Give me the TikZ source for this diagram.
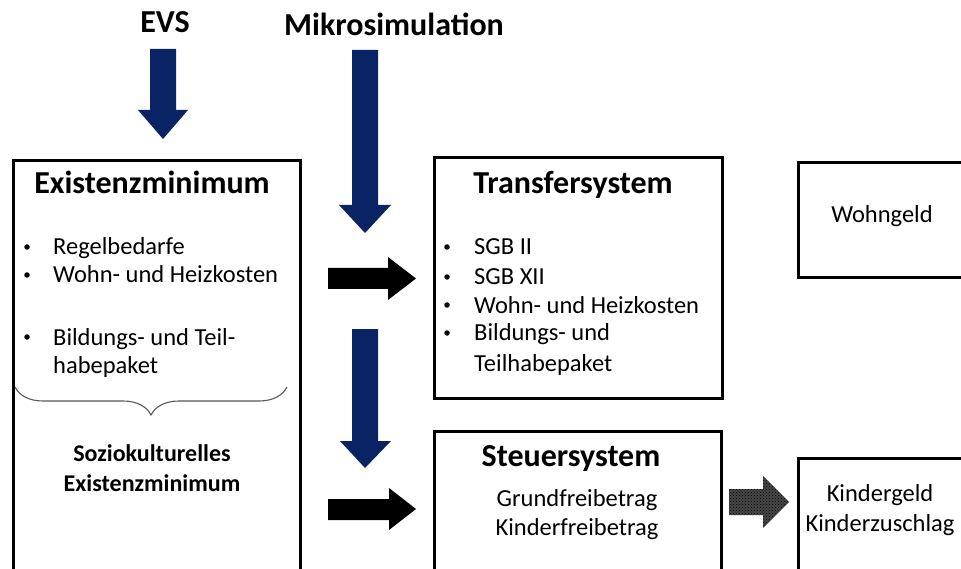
\documentclass[tikz,border=0pt]{standalone}
\usepackage{fontspec}
\setmainfont{Carlito}
\usetikzlibrary{decorations.pathreplacing,patterns}
\definecolor{navy}{RGB}{10,35,100}
\tikzset{
  box/.style={draw=black,line width=2.6pt,fill=white,inner sep=0pt,anchor=north west},
  ttl/.style={font=\fontsize{32}{36}\selectfont\bfseries,inner sep=0pt,anchor=base},
  txt/.style={font=\fontsize{24.5}{29}\selectfont,inner sep=0pt,anchor=base west},
  ctxt/.style={font=\fontsize{24.5}{29}\selectfont,inner sep=0pt,anchor=base},
  btxt/.style={font=\fontsize{24}{29}\selectfont\bfseries,inner sep=0pt,anchor=base},
  bul/.style={circle,fill=black,inner sep=0pt,minimum size=5.5pt},
  bluearrow/.style={fill=navy},
  blackarrow/.style={fill=black},
}
\begin{document}
\begin{tikzpicture}[x=1pt,y=-1pt]
\useasboundingbox (0,0) rectangle (961,569);
\clip (0,0) rectangle (961,569);
% boxes
\node[box,minimum width=287pt,minimum height=460pt] (exist) at (12,159) {};
\node[box,minimum width=288pt,minimum height=241pt] (transfer) at (433,156) {};
\node[box,minimum width=250pt,minimum height=115pt] (wohngeld) at (797,161) {};
\node[box,minimum width=287pt,minimum height=200pt] (steuer) at (433,430) {};
\node[box,minimum width=250pt,minimum height=200pt] (kinder) at (797,457) {};
% top labels
\node[ttl] (evs) at (165,33) {EVS};
\node[ttl] (mikro) at (394,36) {Mikrosimulation};
% titles
\node[ttl] (texist) at (152,194) {Existenzminimum};
\node[ttl] (ttransfer) at (573,194) {Transfersystem};
\node[ttl] (tsteuer) at (571,466) {Steuersystem};
% Existenzminimum list
\node[bul] (eb1) at (27,247) {};
\node[txt] (e1) at (53,255) {Regelbedarfe};
\node[bul] (eb2) at (27,275) {};
\node[txt] (e2) at (53,283) {Wohn- und Heizkosten};
\node[bul] (eb3) at (27,337) {};
\node[txt] (e3) at (53,345) {Bildungs- und Teil-};
\node[txt] (e4) at (53,373) {habepaket};
% brace
\draw[gray!70!black,line width=1.1pt,decorate,decoration={brace,amplitude=28pt,mirror}]
  (15,387) coordinate (bl) -- (287,387) coordinate (br);
\node[btxt] (s1) at (152,461) {Soziokulturelles};
\node[btxt] (s2) at (152,491) {Existenzminimum};
% Transfersystem list
\node[bul] (tb1) at (447,247) {};
\node[txt] (t1) at (474,255) {SGB II};
\node[bul] (tb2) at (447,277) {};
\node[txt] (t2) at (474,285) {SGB XII};
\node[bul] (tb3) at (447,305) {};
\node[txt] (t3) at (474,313) {Wohn- und Heizkosten};
\node[bul] (tb4) at (447,333) {};
\node[txt] (t4) at (474,341) {Bildungs- und};
\node[txt] (t5) at (474,371) {Teilhabepaket};
% Wohngeld
\node[ctxt] (w) at (882,223) {Wohngeld};
% Steuersystem
\node[ctxt] (g1) at (577,506) {Grundfreibetrag};
\node[ctxt] (g2) at (577,535) {Kinderfreibetrag};
% Kindergeld
\node[ctxt] (k1) at (880,501) {Kindergeld};
\node[ctxt] (k2) at (880,531) {Kinderzuschlag};
% blue arrows
\fill[bluearrow] (150,49) -- (176,49) -- (176,110) -- (188,110) -- (163,139) -- (138,110) -- (150,110) -- cycle;
\fill[bluearrow] (352,50) -- (378,50) -- (378,205) -- (391,205) -- (365,233) -- (339,205) -- (352,205) -- cycle;
\fill[bluearrow] (352,329) -- (378,329) -- (378,441) -- (391,441) -- (365,468) -- (340,441) -- (352,441) -- cycle;
% black arrows
\fill[blackarrow] (328,268) -- (388,268) -- (388,257) -- (416,278.5) -- (388,300) -- (388,289) -- (328,289) -- cycle;
\fill[blackarrow] (328,499) -- (389,499) -- (389,488) -- (416,509) -- (389,530) -- (389,520) -- (328,520) -- cycle;
% hatched arrow
\path[fill=black!72] (729,489) -- (763,489) -- (763,476) -- (789,502) -- (763,528) -- (763,515) -- (729,515) -- cycle;
\path[pattern=crosshatch dots,pattern color=black] (729,489) -- (763,489) -- (763,476) -- (789,502) -- (763,528) -- (763,515) -- (729,515) -- cycle;
\end{tikzpicture}
\end{document}
